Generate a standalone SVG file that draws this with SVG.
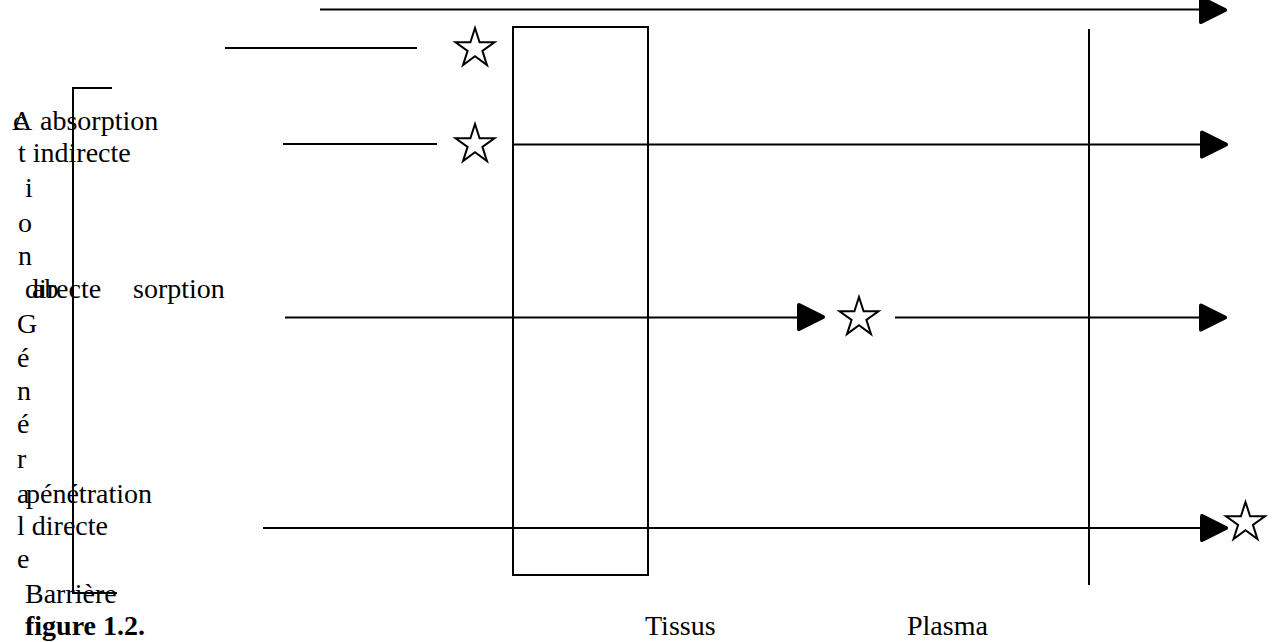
<svg xmlns="http://www.w3.org/2000/svg" width="1275" height="642" viewBox="0 0 1275 642">
<style>
  text { font-family: "Liberation Serif", "Times New Roman", serif; font-size: 28px; fill: #000; }
  .b { font-weight: bold; }
  .ln { stroke: #000; stroke-width: 2; fill: none; }
  .star { fill: #fff; stroke: #000; stroke-width: 2; stroke-linejoin: miter; }
  .ah { fill: #000; stroke: #000; stroke-width: 4; stroke-linejoin: round; }
</style>
<defs>
  <path id="head" class="ah" d="M2,-12 L26,0 L2,12 Z"/>
  <polygon id="st" class="star" points="0,-20.5 4.6,-6.3 19.5,-6.3 7.4,2.4 12,16.6 0,7.8 -12,16.6 -7.4,2.4 -19.5,-6.3 -4.6,-6.3"/>
</defs>
<rect width="1275" height="642" fill="#fff"/>

<g id="bracket">
  <polyline class="ln" points="112,88 73,88 73,593 117,593"/>
</g>

<g id="tissus-box">
  <rect class="ln" x="513" y="27" width="135" height="548"/>
</g>

<g id="plasma-line">
  <line class="ln" x1="1089" y1="29" x2="1089" y2="585"/>
</g>

<g id="connectors">
  <line class="ln" x1="320" y1="9.5" x2="1202" y2="9.5"/>
  <use href="#head" x="1199" y="10"/>
  <line class="ln" x1="225" y1="48" x2="417" y2="48"/>
  <line class="ln" x1="283" y1="144" x2="437" y2="144"/>
  <line class="ln" x1="513" y1="144.5" x2="1202" y2="144.5"/>
  <use href="#head" x="1200" y="144.5"/>
  <line class="ln" x1="285" y1="317.5" x2="800" y2="317.5"/>
  <use href="#head" x="797" y="317"/>
  <line class="ln" x1="895" y1="317.5" x2="1202" y2="317.5"/>
  <use href="#head" x="1199" y="317.5"/>
  <line class="ln" x1="263" y1="528" x2="1203" y2="528"/>
  <use href="#head" x="1200" y="528"/>
</g>

<g id="stars">
  <use href="#st" x="475" y="48.5"/>
  <use href="#st" x="475" y="144.5"/>
  <use href="#st" x="859" y="317.5"/>
  <use href="#st" x="1245.5" y="522.5"/>
</g>

<g id="labels">
  <text x="12" y="130">A</text>
  <text x="13" y="130">c</text>
  <text x="40" y="130">absorption</text>
  <text x="18" y="162">t indirecte</text>
  <text x="25" y="197">i</text>
  <text x="18" y="232">o</text>
  <text x="18" y="265">n</text>
  <text x="25" y="298">directe</text>
  <text x="32" y="298">ab</text>
  <text x="133" y="298">sorption</text>
  <text x="17" y="333">G</text>
  <text x="17" y="367">é</text>
  <text x="17" y="400">n</text>
  <text x="17" y="433">é</text>
  <text x="17" y="468">r</text>
  <text x="17" y="503">a</text>
  <text x="26" y="503">pénétration</text>
  <text x="17" y="535">l directe</text>
  <text x="17" y="568">e</text>
  <text x="25" y="603">Barrière</text>
  <text class="b" x="25" y="635">figure 1.2.</text>
  <text x="645" y="635">Tissus</text>
  <text x="907" y="635">Plasma</text>
</g>
</svg>
